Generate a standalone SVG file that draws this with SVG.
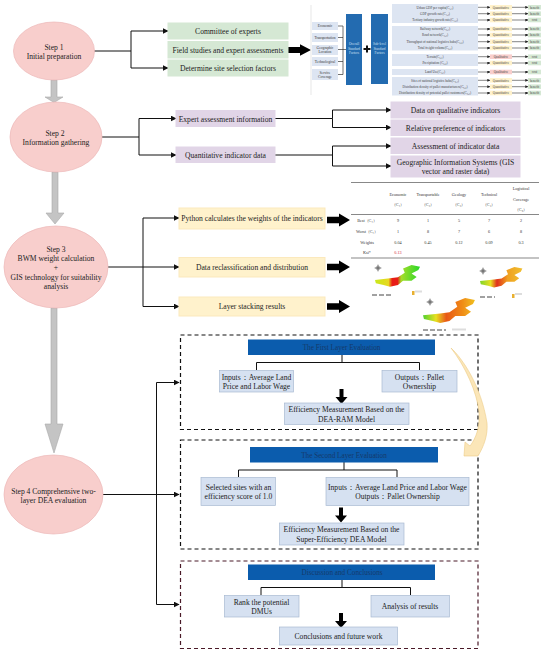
<svg xmlns="http://www.w3.org/2000/svg" xmlns:xlink="http://www.w3.org/1999/xlink" width="550" height="653" viewBox="0 0 550 653">
<style>
text{font-family:"Liberation Serif","Times New Roman",serif;fill:#222;text-anchor:middle}
.t{font-size:7.6px}
.s{font-size:3.3px;fill:#444}
.l{font-size:3.6px;fill:#333}
.w{font-size:3.4px;fill:#cfe0f2}
.tb{font-size:4.2px;fill:#333}
.hd{font-size:7.2px;fill:#153a6b}
.step{fill:#f8cecc;stroke:#ecb8b8;stroke-width:.7}
.gr{fill:#d5e8d4;stroke:#d5e8d4}
.pu{fill:#e1d5e7;stroke:#e1d5e7}
.ye{fill:#fff2cc;stroke:#fbe9bd}
.bl{fill:#d6e1f1;stroke:#a9bad2;stroke-width:.7}
.lb{fill:#dde5f2}
.hdr{fill:#0b5cad}
.big{fill:#236bb0}
.c{fill:none;stroke:#111;stroke-width:1}
.ca{fill:none;stroke:#111;stroke-width:1;marker-end:url(#a)}
.cs{fill:none;stroke:#333;stroke-width:.6;marker-mid:url(#b);marker-end:url(#b)}
.g{fill:#c4c4c4;stroke:#aaa;stroke-width:.6}
.d{fill:none;stroke:#111;stroke-width:1.2;stroke-dasharray:4 3}
.rule{stroke:#555;stroke-width:.7}
.p1{fill:#fff2cc}.p2{fill:#f8cecc}.p3{fill:#d5e8d4}
</style>
<defs>
<marker id="a" viewBox="0 0 10 10" refX="9" refY="5" markerWidth="6" markerHeight="6" markerUnits="userSpaceOnUse" orient="auto"><path d="M0,0L10,5L0,10Z" fill="#111"/></marker>
<marker id="b" viewBox="0 0 10 10" refX="9" refY="5" markerWidth="3" markerHeight="3" markerUnits="userSpaceOnUse" orient="auto"><path d="M0,0L10,5L0,10Z" fill="#222"/></marker>
<path id="fat" d="M0,-3.2H12V-6.5L23,0L12,6.5V3.2H0Z" fill="#000"/>
<path id="down" d="M-2,0H2V8H6L0,15L-6,8H-2Z" fill="#000"/>
<g id="compass"><path d="M0,-4L1,-1L4,0L1,1L0,4L-1,1L-4,0L-1,-1Z" fill="#777"/><circle r="2" fill="none" stroke="#999" stroke-width=".6"/></g>
<linearGradient id="m1" x1="0" x2="1" y1="0" y2="0"><stop offset="0" stop-color="#c8e81e"/><stop offset=".3" stop-color="#e8d820"/><stop offset=".38" stop-color="#e81c14"/><stop offset=".5" stop-color="#e81c14"/><stop offset=".58" stop-color="#a6dc2a"/><stop offset="1" stop-color="#28d82a"/></linearGradient>
<linearGradient id="m2" x1="0" x2="1" y1="0" y2="0"><stop offset="0" stop-color="#7ed42a"/><stop offset=".25" stop-color="#e8e020"/><stop offset=".4" stop-color="#e0301a"/><stop offset=".65" stop-color="#f0a020"/><stop offset="1" stop-color="#f0c030"/></linearGradient>
<linearGradient id="m3" x1="0" x2="1" y1="0" y2="0"><stop offset="0" stop-color="#50d030"/><stop offset=".25" stop-color="#e8e020"/><stop offset=".45" stop-color="#e85818"/><stop offset=".75" stop-color="#f08a18"/><stop offset="1" stop-color="#f0c020"/></linearGradient>
<path id="mapshape" d="M0,17.600L17.600,15.700L27,14.500L35,9L33,4L43,0L53,2L51,6L43,10L49,14L43,18.400L33,18.400L27,23.500L17.600,25.500L10,23.500L1,21.500Z"/>
<filter id="sb" x="-10%" y="-10%" width="120%" height="120%"><feGaussianBlur stdDeviation=".25"/></filter>
</defs>
<rect width="550" height="653" fill="#fff"/>

<g id="connectors">
<path class="c" d="M94,51H131"/><path class="ca" d="M131,51V31H168"/><path class="ca" d="M131,51V68H168"/>
<path class="c" d="M102,137H139"/><path class="ca" d="M139,137V118.500H176"/><path class="ca" d="M139,137V155H176"/>
<path class="c" d="M275,118.500H332.500"/><path class="ca" d="M332.500,118.500V110H391"/><path class="ca" d="M332.500,118.500V127.500H391"/>
<path class="c" d="M275,155H332.500"/><path class="ca" d="M332.500,155V146H391"/><path class="ca" d="M332.500,155V166H391"/>
<path class="ca" d="M108,267H179"/><path class="ca" d="M143,267V218H179"/><path class="ca" d="M143,267V306.500H179"/>
<path class="ca" d="M103,494.500H179"/><path class="ca" d="M156.500,494.500V382.500H179"/><path class="ca" d="M156.500,494.500V604.500H179"/>
<path class="g" d="M51,80H57V97H63L54,102.500L45,97H51Z"/>
<path class="g" d="M52,172H58V213H64L55,224L46,213H52Z"/>
<path class="g" d="M51,308H57V424H63L54,453L45,424H51Z"/>
<use xlink:href="#fat" href="#fat" transform="translate(288,50) scale(1,.9)"/>
<use xlink:href="#fat" href="#fat" transform="translate(327,220)"/>
<use xlink:href="#fat" href="#fat" transform="translate(327,267)"/>
<use xlink:href="#fat" href="#fat" transform="translate(327,306.500)"/>
<path class="c" d="M342,355V362.500M256.500,370V362.500H419.500V370"/>
<path class="c" d="M344,462V470M238.500,477V470H397V477"/>
<path class="c" d="M342,580V587.500M261,595V587.500H410.500V595"/>
<use xlink:href="#down" href="#down" transform="translate(341.500,389)"/>
<use xlink:href="#down" href="#down" transform="translate(341,507.500)"/>
<use xlink:href="#down" href="#down" transform="translate(341,613)"/>
<g stroke="#333" stroke-width=".7" fill="none"><path d="M338,26H343M338,37.500H343M338,61.500H343M338,74.500H343M343,26V74.500M338,49.500H346"/></g>
<path d="M363.500,49H370.500M367,45.500V52.500" stroke="#111" stroke-width="2" fill="none"/>
<path class="cs" d="M478,7.300H490M512,7.300H528"/><path class="cs" d="M478,13.700H490M512,13.700H528"/><path class="cs" d="M478,20H490M512,20H528"/><path class="cs" d="M478,29H490M512,29H528"/><path class="cs" d="M478,35H490M512,35H528"/><path class="cs" d="M478,41.700H490M512,41.700H528"/><path class="cs" d="M478,48H490M512,48H528"/><path class="cs" d="M478,56.700H490M512,56.700H528"/><path class="cs" d="M478,63H490M512,63H528"/><path class="cs" d="M478,72H490M512,72H528"/><path class="cs" d="M478,80.300H490M512,80.300H528"/><path class="cs" d="M478,86.700H490M512,86.700H528"/><path class="cs" d="M478,93H490M512,93H528"/>
</g>

<g id="step1"><ellipse class="step" cx="54" cy="51" rx="40.500" ry="29"/><text class="t" x="54" y="49.500">Step 1</text><text class="t" x="54" y="59">Initial preparation</text></g>
<g id="step2"><ellipse class="step" cx="56" cy="137" rx="46" ry="35"/><text class="t" x="55" y="135.500">Step 2</text><text class="t" x="56" y="145">Information gathering</text></g>
<g id="step3"><ellipse class="step" cx="56" cy="267" rx="52" ry="41"/><text class="t" x="56" y="251.500">Step 3</text><text class="t" x="56" y="261">BWM weight calculation</text><text class="t" x="56" y="270">+</text><text class="t" x="56" y="279.500">GIS technology for suitability</text><text class="t" x="56" y="289">analysis</text></g>
<g id="step4"><ellipse class="step" cx="53.500" cy="494.500" rx="49.500" ry="39.500"/><text class="t" x="53.500" y="493.500">Step 4 Comprehensive two-</text><text class="t" x="53.500" y="502.500">layer DEA evaluation</text></g>

<g id="committee"><rect class="gr" x="168" y="23" width="120" height="16"/><text class="t" x="228" y="33.500">Committee of experts</text></g>
<g id="field"><rect class="gr" x="168" y="41.500" width="120" height="16.500"/><text class="t" x="228" y="52.500">Field studies and expert assessments</text></g>
<g id="determine"><rect class="gr" x="168" y="60" width="120" height="16"/><text class="t" x="228" y="70.500">Determine site selection factors</text></g>

<g id="expert"><rect class="pu" x="176" y="110.500" width="99" height="16"/><text class="t" x="225.500" y="121.500">Expert assessment information</text></g>
<g id="quant"><rect class="pu" x="176" y="147" width="99" height="15.500"/><text class="t" x="225.500" y="157.500">Quantitative indicator data</text></g>
<g id="q1"><rect class="pu" x="391" y="102" width="129" height="16"/><text class="t" x="455.500" y="113">Data on qualitative indicators</text></g>
<g id="q2"><rect class="pu" x="391" y="120" width="129" height="15.500"/><text class="t" x="455.500" y="130.500">Relative preference of indicators</text></g>
<g id="q3"><rect class="pu" x="391" y="138" width="129" height="15.500"/><text class="t" x="455.500" y="148.500">Assessment of indicator data</text></g>
<g id="q4"><rect class="pu" x="391" y="156" width="129" height="21"/><text class="t" x="455.500" y="164.500">Geographic Information Systems (GIS</text><text class="t" x="455.500" y="174">vector and raster data)</text></g>

<g id="python"><rect class="ye" x="179" y="208" width="146" height="21"/><text class="t" x="252" y="221">Python calculates the weights of the indicators</text></g>
<g id="reclass"><rect class="ye" x="179" y="257.500" width="146" height="19.500"/><text class="t" x="252" y="270">Data reclassification and distribution</text></g>
<g id="stack"><rect class="ye" x="179" y="297" width="146" height="19"/><text class="t" x="252" y="309">Layer stacking results</text></g>

<g id="panel">
<path d="M311,5V95" stroke="#ddd" stroke-width=".7"/>
<g class="lb"><rect x="312" y="22" width="26" height="8"/><rect x="312" y="33" width="26" height="9"/><rect x="312" y="45" width="26" height="10"/><rect x="312" y="57" width="26" height="9"/><rect x="312" y="69" width="26" height="11"/>
<rect x="392" y="4" width="86" height="19"/><rect x="392" y="26" width="86" height="24.500"/><rect x="392" y="54" width="86" height="12"/><rect x="392" y="69" width="86" height="6"/><rect x="392" y="77" width="86" height="18.500"/></g>
<text class="l" x="325" y="27.300">Economic</text><text class="l" x="325" y="38.800">Transportation</text><text class="l" x="325" y="49">Geographic</text><text class="l" x="325" y="53">Location</text><text class="l" x="325" y="62.800">Technological</text><text class="l" x="325" y="73.500">Service</text><text class="l" x="325" y="77.800">Coverage</text>
<rect class="big" x="346" y="14" width="16" height="71"/><rect class="big" x="371" y="14" width="17" height="70"/>
<text class="w" x="354" y="45">Overall</text><text class="w" x="354" y="49.500">Standard</text><text class="w" x="354" y="54">Factors</text>
<text class="w" x="379.500" y="45">Sub-level</text><text class="w" x="379.500" y="49.500">Standard</text><text class="w" x="379.500" y="54">Factors</text>
<text class="s" x="435" y="8.500">Urban GDP per capita(C₁,₁)</text>
<text class="s" x="435" y="15">GDP growth rate(C₁,₂)</text>
<text class="s" x="435" y="21.200">Tertiary industry growth rate(C₁,₃)</text>
<text class="s" x="435" y="30.200">Railway network(C₂,₁)</text>
<text class="s" x="435" y="36.200">Road network(C₂,₂)</text>
<text class="s" x="435" y="42.800">Throughput of national logistics hubs(C₂,₃)</text>
<text class="s" x="435" y="49.200">Total freight volume(C₂,₄)</text>
<text class="s" x="435" y="58">Terrain(C₃,₁)</text>
<text class="s" x="435" y="64.200">Precipitation (C₃,₂)</text>
<text class="s" x="435" y="73.200">Land Use(C₄,₁)</text>
<text class="s" x="435" y="81.500">Sites of national logistics hubs(C₅,₁)</text>
<text class="s" x="435" y="87.800">Distribution density of pallet manufacturers(C₅,₂)</text>
<text class="s" x="435" y="94.200">Distribution density of potential pallet customers(C₅,₃)</text>
<g class="p1"><rect x="490" y="5" width="22" height="4.600"/><rect x="490" y="11.400" width="22" height="4.600"/><rect x="490" y="17.700" width="22" height="4.600"/><rect x="490" y="26.700" width="22" height="4.600"/><rect x="490" y="32.700" width="22" height="4.600"/><rect x="490" y="39.400" width="22" height="4.600"/><rect x="490" y="45.700" width="22" height="4.600"/><rect x="490" y="60.700" width="22" height="4.600"/><rect x="490" y="78" width="22" height="4.600"/><rect x="490" y="84.400" width="22" height="4.600"/><rect x="490" y="90.700" width="22" height="4.600"/></g>
<g class="p2"><rect x="490" y="54.400" width="22" height="4.600"/><rect x="490" y="69.700" width="22" height="4.600"/></g>
<g class="p3"><rect x="528" y="5" width="13" height="4.600"/><rect x="528" y="11.400" width="13" height="4.600"/><rect x="528" y="17.700" width="13" height="4.600"/><rect x="528" y="26.700" width="13" height="4.600"/><rect x="528" y="32.700" width="13" height="4.600"/><rect x="528" y="39.400" width="13" height="4.600"/><rect x="528" y="45.700" width="13" height="4.600"/><rect x="528" y="54.400" width="13" height="4.600"/><rect x="528" y="60.700" width="13" height="4.600"/><rect x="528" y="69.700" width="13" height="4.600"/><rect x="528" y="78" width="13" height="4.600"/><rect x="528" y="84.400" width="13" height="4.600"/><rect x="528" y="90.700" width="13" height="4.600"/></g>
<g class="s">
<text class="s" x="501" y="8.500">Quantitative</text><text class="s" x="501" y="14.900">Quantitative</text><text class="s" x="501" y="21.200">Quantitative</text><text class="s" x="501" y="30.200">Quantitative</text><text class="s" x="501" y="36.200">Quantitative</text><text class="s" x="501" y="42.900">Quantitative</text><text class="s" x="501" y="49.200">Quantitative</text><text class="s" x="501" y="57.900">Qualitative</text><text class="s" x="501" y="64.200">Quantitative</text><text class="s" x="501" y="73.200">Qualitative</text><text class="s" x="501" y="81.500">Quantitative</text><text class="s" x="501" y="87.900">Quantitative</text><text class="s" x="501" y="94.200">Quantitative</text>
<text class="s" x="534.500" y="8.500">benefit</text><text class="s" x="534.500" y="14.900">benefit</text><text class="s" x="534.500" y="21.200">cost</text><text class="s" x="534.500" y="30.200">benefit</text><text class="s" x="534.500" y="36.200">benefit</text><text class="s" x="534.500" y="42.900">benefit</text><text class="s" x="534.500" y="49.200">benefit</text><text class="s" x="534.500" y="57.900">cost</text><text class="s" x="534.500" y="64.200">cost</text><text class="s" x="534.500" y="73.200">cost</text><text class="s" x="534.500" y="81.500">benefit</text><text class="s" x="534.500" y="87.900">benefit</text><text class="s" x="534.500" y="94.200">benefit</text>
</g>
</g>

<g id="table">
<path class="rule" d="M351,182.500H539M351,214.500H539M351,258H539"/>
<text class="tb" x="398" y="195.500">Economic</text><text class="tb" x="398" y="205.500">（C₁）</text>
<text class="tb" x="428" y="195.500">Transportable</text><text class="tb" x="428" y="205.500">（C₂）</text>
<text class="tb" x="459" y="195.500">Geology</text><text class="tb" x="459" y="205.500">（C₃）</text>
<text class="tb" x="489" y="195.500">Technical</text><text class="tb" x="489" y="205.500">（C₄）</text>
<text class="tb" x="521" y="190">Logistical</text><text class="tb" x="521" y="200.500">Coverage</text><text class="tb" x="521" y="210.500">（C₅）</text>
<text class="tb" x="367" y="221.500">Best（C₁）</text><text class="tb" x="398" y="221.500">9</text><text class="tb" x="428" y="221.500">1</text><text class="tb" x="459" y="221.500">5</text><text class="tb" x="489" y="221.500">7</text><text class="tb" x="521" y="221.500">2</text>
<text class="tb" x="367" y="232.500">Worst（C₁）</text><text class="tb" x="398" y="232.500">1</text><text class="tb" x="428" y="232.500">8</text><text class="tb" x="459" y="232.500">7</text><text class="tb" x="489" y="232.500">6</text><text class="tb" x="521" y="232.500">8</text>
<text class="tb" x="367" y="243.500">Weights</text><text class="tb" x="398" y="243.500">0.04</text><text class="tb" x="428" y="243.500">0.45</text><text class="tb" x="459" y="243.500">0.12</text><text class="tb" x="489" y="243.500">0.09</text><text class="tb" x="521" y="243.500">0.3</text>
<text class="tb" x="367" y="254">Ksi*</text><text class="tb" x="398" y="254" style="fill:#d0243c">0.13</text>
</g>

<g id="maps">
<use xlink:href="#compass" href="#compass" transform="translate(378,268)"/>
<use xlink:href="#mapshape" href="#mapshape" fill="url(#m1)" filter="url(#sb)" transform="translate(375,265) scale(.85)"/>
<path d="M372,295H393" stroke="#444" stroke-width="1" stroke-dasharray="5 2"/>
<rect x="412" y="291" width="2.500" height="4" fill="#e8b030"/><rect x="415" y="290.500" width="7" height="2" fill="#ddd"/>
<use xlink:href="#compass" href="#compass" transform="translate(483,271)"/>
<use xlink:href="#mapshape" href="#mapshape" fill="url(#m2)" filter="url(#sb)" transform="translate(480,267) scale(.8)"/>
<path d="M480,297H495" stroke="#444" stroke-width="1" stroke-dasharray="5 2"/>
<rect x="512" y="294" width="2.500" height="4" fill="#e8b030"/><rect x="515" y="293" width="7" height="2" fill="#ddd"/>
<use xlink:href="#compass" href="#compass" transform="translate(430,302)"/>
<use xlink:href="#mapshape" href="#mapshape" fill="url(#m3)" filter="url(#sb)" transform="translate(423,298) scale(.98)"/>
<path d="M423,330H446" stroke="#444" stroke-width="1" stroke-dasharray="5 2"/>
<rect x="452" y="328.500" width="14" height="2" fill="#ddd"/>
</g>

<g id="layer1">
<rect class="d" x="180.500" y="335" width="297.500" height="94.500"/>
<rect class="hdr" x="248" y="339.500" width="187" height="15.500"/><text class="hd" x="341.500" y="350">The First Layer Evaluation</text>
<rect class="bl" x="219.500" y="370.500" width="74" height="21.500"/><text class="t" x="256.500" y="379.500">Inputs：Average Land</text><text class="t" x="256.500" y="389">Price and Labor Wage</text>
<rect class="bl" x="382" y="370.500" width="75" height="21.500"/><text class="t" x="419.500" y="379.500">Outputs：Pallet</text><text class="t" x="419.500" y="389">Ownership</text>
<rect class="bl" x="284.500" y="403" width="124.500" height="21.500"/><text class="t" x="346.500" y="412">Efficiency Measurement Based on the</text><text class="t" x="346.500" y="421.500">DEA-RAM Model</text>
</g>
<g id="layer2">
<rect class="d" x="180.500" y="440" width="297.500" height="109"/>
<rect class="hdr" x="250" y="447" width="188" height="15.500"/><text class="hd" x="344" y="457.500">The Second Layer Evaluation</text>
<rect class="bl" x="201" y="477.500" width="74.500" height="28"/><text class="t" x="238.500" y="489.500">Selected sites with an</text><text class="t" x="238.500" y="499">efficiency score of 1.0</text>
<rect class="bl" x="326" y="477.500" width="143" height="28"/><text class="t" x="397.500" y="489.500">Inputs：Average Land Price and Labor Wage</text><text class="t" x="397.500" y="499">Outputs：Pallet Ownership</text>
<rect class="bl" x="279.500" y="523" width="124.500" height="22"/><text class="t" x="341.500" y="532">Efficiency Measurement Based on the</text><text class="t" x="341.500" y="541.500">Super-Efficiency DEA Model</text>
</g>
<g id="discussion">
<rect class="d" x="180.500" y="561" width="297.500" height="87.500" style="stroke:#4a1a28"/>
<rect class="hdr" x="248" y="564.500" width="187" height="15.500"/><text class="hd" x="342" y="575">Discussion and Conclusions</text>
<rect class="bl" x="224.500" y="595.500" width="74.500" height="21.500"/><text class="t" x="261.500" y="604.500">Rank the potential</text><text class="t" x="261.500" y="614">DMUs</text>
<rect class="bl" x="371" y="595.500" width="78.500" height="21.500"/><text class="t" x="410" y="609">Analysis of results</text>
<rect class="bl" x="279.500" y="627" width="118" height="18"/><text class="t" x="338.500" y="638.500">Conclusions and future work</text>
</g>
<path id="curve" d="M451,348C462,358 481,385 487,423C488,435 484,446 478,456L464,456L465,442L470,446C476,438 480,428 479,412C477,392 465,366 451,348Z" fill="#fbe6b8" stroke="#eccb85" stroke-width=".6"/>
</svg>
